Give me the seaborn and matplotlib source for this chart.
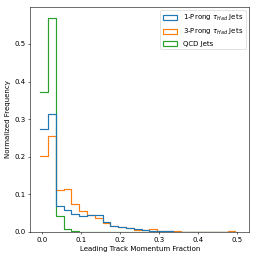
import numpy as np
import pandas as pd
import matplotlib
matplotlib.use("Agg")
import matplotlib.pyplot as plt
import seaborn as sns
from matplotlib.patches import Patch

# bin edges (width 0.02 starting at -0.005)
bin_edges = [-0.005 + 0.02 * k for k in range(26)]
bin_centers = [(bin_edges[i] + bin_edges[i + 1]) / 2 for i in range(25)]

labels = [r"1-Prong $\tau_{Had}$ Jets", r"3-Prong $\tau_{Had}$ Jets", "QCD Jets"]

one_prong = [0.273, 0.313, 0.068, 0.059, 0.047, 0.043, 0.045, 0.045, 0.027, 0.015,
             0.012, 0.010, 0.007, 0.004, 0.003, 0.002, 0.002, 0.001, 0.001, 0.001,
             0.001, 0.0008, 0.0005, 0.0005, 0.0005]
three_prong = [0.203, 0.254, 0.111, 0.113, 0.074, 0.055, 0.045, 0.036, 0.024, 0.017,
               0.013, 0.010, 0.006, 0.0045, 0.0085, 0.002, 0.002, 0.0035, 0.001, 0.001,
               0.001, 0.001, 0.001, 0.0008, 0.0015]
qcd = [0.373, 0.570, 0.043, 0.0075, 0.002, 0.001, 0.0008, 0.0005, 0.0005, 0.0004,
       0.0003, 0.0003, 0.0002, 0.0002, 0.0002, 0.0001, 0.0001, 0.0001, 0.0001, 0.0001,
       0.0001, 0.0001, 0.0001, 0.0001, 0.0001]

colors = ["#1f77b4", "#ff7f0e", "#2ca02c"]

df = pd.DataFrame({
    "x": bin_centers * 3,
    "w": one_prong + three_prong + qcd,
    "g": [labels[0]] * 25 + [labels[1]] * 25 + [labels[2]] * 25,
})

fig, ax = plt.subplots(figsize=(5.16, 5.16), dpi=50)
sns.histplot(data=df, x="x", weights="w", hue="g", hue_order=labels,
             bins=bin_edges, element="step", fill=False, stat="count",
             palette=colors, linewidth=1.7, legend=False, ax=ax)

ax.set_xlim(-0.0305, 0.5305)
ax.set_ylim(0, 0.5985)
ax.set_xlabel("Leading Track Momentum Fraction")
ax.set_ylabel("Normalized Frequency")

handles = [Patch(facecolor="none", edgecolor=c, linewidth=1.7) for c in colors]
ax.legend(handles, labels, loc="upper right")

fig.subplots_adjust(left=0.117, right=0.966, top=0.973, bottom=0.101)
fig.savefig("out.png", dpi=50)
